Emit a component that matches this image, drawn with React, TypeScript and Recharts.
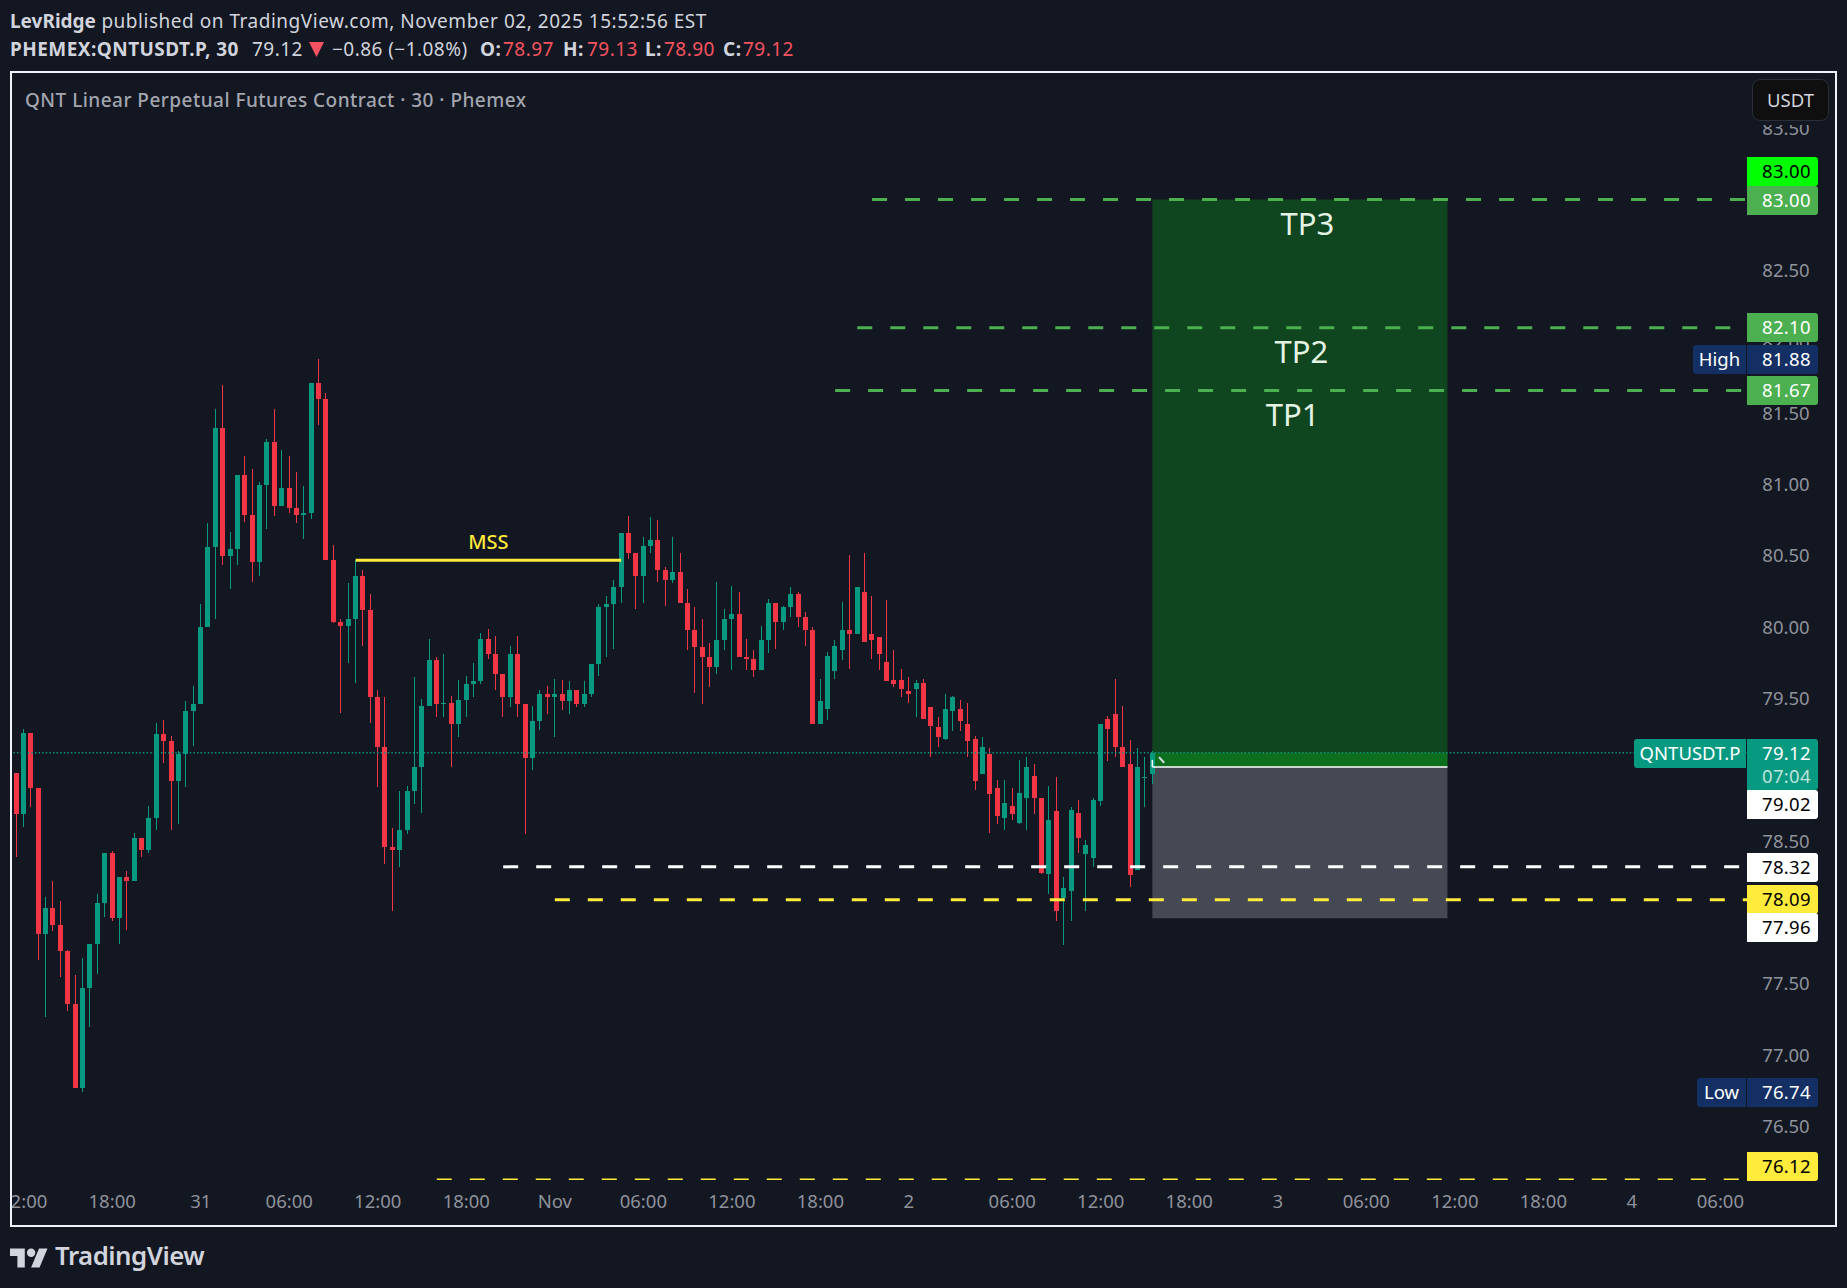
import { ComposedChart, Bar, XAxis, YAxis, ReferenceLine, ReferenceArea, ReferenceDot } from "recharts";

// [open, high, low, close], 30 minute bars from the left edge
const candles = [
  [78.98, 78.98, 78.39, 78.69], [78.69, 79.29, 78.60, 79.26], [79.26, 79.26, 78.74, 78.87], [78.87, 78.87, 77.67, 77.85],
  [77.85, 78.11, 77.27, 78.03], [78.03, 78.22, 77.87, 77.91], [77.91, 78.08, 77.55, 77.73], [77.73, 77.74, 77.31, 77.36],
  [77.36, 77.56, 76.77, 76.77], [76.77, 77.68, 76.74, 77.47], [77.47, 77.78, 77.20, 77.78], [77.78, 78.13, 77.57, 78.07],
  [78.07, 78.42, 77.97, 78.42], [78.42, 78.43, 77.94, 77.96], [77.96, 78.25, 77.78, 78.25], [78.25, 78.29, 77.88, 78.22],
  [78.22, 78.56, 78.22, 78.52], [78.52, 78.52, 78.39, 78.44], [78.44, 78.75, 78.42, 78.66], [78.66, 79.33, 78.58, 79.25],
  [79.25, 79.35, 79.05, 79.20], [79.20, 79.24, 78.58, 78.92], [78.92, 79.13, 78.62, 79.11], [79.11, 79.48, 78.88, 79.41],
  [79.41, 79.59, 79.17, 79.46], [79.46, 80.16, 79.46, 80.00], [80.00, 80.73, 80.00, 80.56], [80.56, 81.53, 80.06, 81.40],
  [81.40, 81.70, 80.44, 80.50], [80.50, 80.67, 80.27, 80.55], [80.55, 81.07, 80.44, 81.07], [81.07, 81.20, 80.74, 80.79],
  [80.79, 81.11, 80.32, 80.46], [80.46, 81.02, 80.36, 81.00], [81.00, 81.32, 80.69, 81.30], [81.30, 81.53, 80.78, 80.85],
  [80.85, 81.24, 80.85, 80.98], [80.98, 81.20, 80.80, 80.84], [80.84, 81.09, 80.73, 80.79], [80.79, 80.99, 80.62, 80.80],
  [80.80, 81.71, 80.76, 81.71], [81.71, 81.88, 81.42, 81.60], [81.60, 81.64, 80.47, 80.47], [80.47, 80.58, 80.03, 80.04],
  [80.04, 80.06, 79.40, 80.01], [80.01, 80.31, 79.75, 80.06], [80.06, 80.47, 79.61, 80.36], [80.36, 80.40, 79.87, 80.12],
  [80.12, 80.23, 79.33, 79.51], [79.51, 79.56, 78.88, 79.16], [79.16, 79.51, 78.34, 78.46], [78.46, 78.59, 78.01, 78.44],
  [78.44, 78.85, 78.32, 78.58], [78.58, 78.89, 78.55, 78.85], [78.85, 79.65, 78.76, 79.02], [79.02, 79.50, 78.70, 79.45],
  [79.45, 79.92, 79.45, 79.77], [79.77, 79.79, 79.37, 79.46], [79.46, 79.81, 79.37, 79.47], [79.47, 79.52, 79.02, 79.32],
  [79.32, 79.63, 79.23, 79.49], [79.49, 79.66, 79.37, 79.60], [79.60, 79.75, 79.51, 79.62], [79.62, 79.96, 79.60, 79.92],
  [79.92, 79.99, 79.78, 79.81], [79.81, 79.94, 79.56, 79.67], [79.67, 79.67, 79.37, 79.51], [79.51, 79.87, 79.44, 79.81],
  [79.81, 79.94, 79.37, 79.46], [79.46, 79.46, 78.55, 79.08], [79.08, 79.45, 79.00, 79.34], [79.34, 79.56, 79.28, 79.53],
  [79.53, 79.59, 79.39, 79.51], [79.51, 79.64, 79.23, 79.53], [79.53, 79.63, 79.42, 79.48], [79.48, 79.62, 79.39, 79.56],
  [79.56, 79.56, 79.44, 79.46], [79.46, 79.62, 79.44, 79.53], [79.53, 79.74, 79.51, 79.74], [79.74, 80.16, 79.66, 80.14],
  [80.14, 80.22, 79.79, 80.16], [80.16, 80.33, 79.85, 80.28], [80.28, 80.66, 80.17, 80.66], [80.66, 80.78, 80.48, 80.52],
  [80.52, 80.52, 80.13, 80.36], [80.36, 80.63, 80.17, 80.57], [80.57, 80.77, 80.52, 80.61], [80.61, 80.75, 80.32, 80.40],
  [80.40, 80.42, 80.15, 80.33], [80.33, 80.63, 80.31, 80.39], [80.39, 80.52, 80.17, 80.17], [80.17, 80.27, 79.84, 79.98],
  [79.98, 80.14, 79.54, 79.86], [79.86, 80.06, 79.46, 79.79], [79.79, 79.89, 79.58, 79.72], [79.72, 80.32, 79.67, 79.91],
  [79.91, 80.13, 79.84, 80.06], [80.06, 80.29, 79.70, 80.09], [80.09, 80.25, 79.79, 79.79], [79.79, 79.92, 79.70, 79.78],
  [79.78, 79.84, 79.65, 79.70], [79.70, 80.01, 79.70, 79.91], [79.91, 80.20, 79.82, 80.17], [80.17, 80.17, 79.85, 80.04],
  [80.04, 80.15, 79.98, 80.14], [80.14, 80.28, 80.07, 80.23], [80.23, 80.25, 80.00, 80.07], [80.07, 80.11, 79.87, 79.98],
  [79.98, 80.00, 79.32, 79.32], [79.32, 79.64, 79.32, 79.48], [79.43, 79.83, 79.35, 79.80], [79.69, 79.91, 79.64, 79.87],
  [79.84, 80.18, 79.77, 79.98], [79.98, 80.51, 79.71, 79.95], [79.95, 80.28, 79.95, 80.28], [80.25, 80.52, 79.90, 79.90],
  [79.95, 80.22, 79.78, 79.91], [79.93, 79.93, 79.70, 79.81], [79.76, 80.19, 79.62, 79.62], [79.63, 79.84, 79.58, 79.60],
  [79.63, 79.71, 79.51, 79.57], [79.55, 79.65, 79.47, 79.53], [79.57, 79.63, 79.37, 79.61], [79.61, 79.64, 79.36, 79.36],
  [79.44, 79.44, 79.09, 79.31], [79.30, 79.37, 79.16, 79.23], [79.22, 79.53, 79.21, 79.43], [79.41, 79.52, 79.27, 79.51],
  [79.43, 79.49, 79.27, 79.34], [79.32, 79.47, 79.09, 79.20], [79.22, 79.24, 78.86, 78.92], [78.97, 79.23, 78.97, 79.16],
  [79.11, 79.15, 78.56, 78.83], [78.87, 78.93, 78.62, 78.68], [78.66, 78.93, 78.58, 78.77], [78.75, 78.87, 78.65, 78.69],
  [78.63, 79.07, 78.62, 78.84], [78.80, 79.09, 78.58, 79.02], [78.96, 79.04, 78.69, 78.80], [78.80, 78.80, 78.27, 78.28],
  [78.27, 78.89, 78.13, 78.65], [78.71, 78.95, 77.94, 78.01], [78.10, 78.25, 77.77, 78.17], [78.15, 78.74, 77.94, 78.72],
  [78.70, 78.79, 78.42, 78.52], [78.41, 78.51, 78.01, 78.47], [78.38, 78.80, 78.32, 78.79], [78.78, 79.32, 78.75, 79.32],
  [79.36, 79.38, 79.06, 79.29], [79.39, 79.64, 79.09, 79.16], [79.16, 79.45, 79.02, 79.02], [79.04, 79.21, 78.18, 78.26],
  [78.30, 79.15, 78.30, 79.02], [78.95, 79.09, 78.74, 78.95], [78.97, 79.13, 78.90, 79.12],
];

const priceTicks = [83.5, 83, 82.5, 82, 81.5, 81, 80.5, 80, 79.5, 79, 78.5, 78, 77.5, 77, 76.5];

// bar number -> time label, Nov 2 runs two bars long because of the clock change
const timeTickBars = [2, 14, 26, 38, 50, 62, 74, 86, 98, 110, 122, 136, 148, 160, 172, 184, 196, 208, 220, 232];
const timeTickLabels = ["12:00", "18:00", "31", "06:00", "12:00", "18:00", "Nov", "06:00", "12:00", "18:00", "2", "06:00", "12:00", "18:00", "3", "06:00", "12:00", "18:00", "4", "06:00"];

const lastPrice = 79.12;
const entryPrice = 79.02;
const targetPrice = 83.0;
const stopPrice = 77.96;
const whiteLevel = 78.32;
const yellowLevel = 78.09;
const lowerYellowLevel = 76.13;
const mssLevel = 80.47;
const tpLevels = [83.0, 82.1, 81.66];
const tpStartBars = [117, 115, 112];
const tpNames = ["TP3", "TP2", "TP1"];

const BAR_COUNT = 236;
const data = candles.map((c, i) => ({ bar: i + 1, open: c[0], high: c[1], low: c[2], close: c[3], range: [c[2], c[1]] }));

const UP = "#089981";
const DOWN = "#f23645";
const BG = "#131722";
const RED_TEXT = "#f7525f";
const FONT = '"Noto Sans", sans-serif';

function Candle(props: any) {
  const { x, y, width, height, payload } = props;
  const up = payload.close >= payload.open;
  const color = up ? UP : DOWN;
  const pxPerPrice = height / (payload.high - payload.low);
  const bodyTop = y + (payload.high - Math.max(payload.open, payload.close)) * pxPerPrice;
  const bodyH = Math.max(Math.abs(payload.open - payload.close) * pxPerPrice, 1);
  const left = Math.round(x + width / 2 - 2.5);
  return (
    <g shapeRendering="crispEdges">
      <rect x={left + 2} y={y} width={1} height={height} fill={color} />
      <rect x={left} y={bodyTop} width={5} height={bodyH} fill={color} />
    </g>
  );
}

function PriceTick(props: any) {
  const { y, payload } = props;
  return (
    <text x={1786} y={y + 6.5} textAnchor="middle" fontSize={18.5} fontFamily={FONT} fill="#8f929b">
      {payload.value.toFixed(2)}
    </text>
  );
}

function TimeTick(props: any) {
  const { x, y, payload } = props;
  const i = timeTickBars.indexOf(payload.value);
  return (
    <text x={x} y={y} textAnchor="middle" fontSize={18.5} fontFamily={FONT} fill="#8f929b">
      {timeTickLabels[i]}
    </text>
  );
}

function PriceTag({ top, height = 29, bg, color, text, sub }: any) {
  return (
    <div
      style={{
        position: "absolute", left: 1747, top, width: 71, height, boxSizing: "border-box", paddingLeft: 8, background: bg, color,
        borderRadius: "0 3px 3px 0", fontSize: 18.5, lineHeight: "28px", textAlign: "center", fontFamily: FONT, letterSpacing: 0.3,
      }}
    >
      {text}
      {sub && <div style={{ color: "#bfe3dc", marginTop: -5 }}>{sub}</div>}
    </div>
  );
}

function SideTag({ top, left, bg, text }: any) {
  return (
    <div
      style={{
        position: "absolute", left, top, width: 1746 - left, height: 29, background: bg, color: "#fff",
        borderRadius: "3px 0 0 3px", fontSize: 18.5, lineHeight: "27px", textAlign: "center", fontFamily: FONT,
      }}
    >
      {text}
    </div>
  );
}

function Head({ left, bold, color, children }: any) {
  return (
    <span style={{ position: "absolute", left, top: 0, fontWeight: bold ? 700 : 400, color }}>{children}</span>
  );
}

export default function App() {
  return (
    <div style={{ position: "absolute", left: 0, top: 0, width: 1847, height: 1288, background: BG, overflow: "hidden", fontFamily: FONT }}>
      <ComposedChart
        width={1847}
        height={1288}
        data={data}
        margin={{ top: 74, right: 0, bottom: 64, left: 12.6 }}
        style={{ position: "absolute", left: 0, top: 0 }}
      >
        <XAxis
          dataKey="bar"
          type="number"
          domain={[0.5, BAR_COUNT + 0.5]}
          allowDataOverflow
          ticks={timeTickBars}
          interval={0}
          tick={<TimeTick />}
          axisLine={false}
          tickLine={false}
          height={40}
          tickMargin={18}
        />
        <YAxis
          orientation="right"
          type="number"
          domain={[76.096, 83.88]}
          allowDataOverflow
          ticks={priceTicks}
          interval={0}
          tick={<PriceTick />}
          axisLine={false}
          tickLine={false}
          width={93.4}
        />

        <ReferenceArea x1={155} x2={195} y1={entryPrice} y2={targetPrice} fill="#0d6b1e" fillOpacity={0.55} stroke="none" />
        <ReferenceArea x1={155} x2={195} y1={stopPrice} y2={entryPrice} fill="#787b86" fillOpacity={0.5} stroke="none" />

        <ReferenceLine y={lastPrice} stroke={UP} strokeWidth={1.4} strokeDasharray="1.4 2.2" />

        <Bar dataKey="range" shape={<Candle />} barSize={5} isAnimationActive={false} />

        <ReferenceArea x1={155} x2={195} y1={entryPrice} y2={lastPrice} fill="#0c8a1c" fillOpacity={0.6} stroke="none" />
        <ReferenceLine segment={[{ x: 155, y: entryPrice }, { x: 195, y: entryPrice }]} stroke="#fff" strokeWidth={1.6} />
        <ReferenceLine segment={[{ x: 155, y: entryPrice }, { x: 155, y: 79.07 }]} stroke="#fff" strokeWidth={1.5} />
        <ReferenceLine segment={[{ x: 155.9, y: 79.09 }, { x: 156.6, y: 79.05 }]} stroke="#d8dde0" strokeWidth={2} />

        {tpLevels.map((level, i) => (
          <ReferenceLine
            key={tpNames[i]}
            segment={[{ x: tpStartBars[i], y: level }, { x: BAR_COUNT, y: level }]}
            stroke="#4caf50"
            strokeWidth={3}
            strokeDasharray="15 18"
          />
        ))}
        <ReferenceLine segment={[{ x: 67, y: whiteLevel }, { x: BAR_COUNT, y: whiteLevel }]} stroke="#ffffff" strokeWidth={3} strokeDasharray="15 18" />
        <ReferenceLine segment={[{ x: 74, y: yellowLevel }, { x: BAR_COUNT, y: yellowLevel }]} stroke="#ffeb3b" strokeWidth={3} strokeDasharray="15 18" />
        <ReferenceLine segment={[{ x: 58, y: lowerYellowLevel }, { x: BAR_COUNT, y: lowerYellowLevel }]} stroke="#ffeb3b" strokeWidth={1.5} strokeDasharray="15 18" />
        <ReferenceLine segment={[{ x: 47, y: mssLevel }, { x: 83, y: mssLevel }]} stroke="#ffeb3b" strokeWidth={3} />

        <ReferenceDot x={65} y={80.6} r={0} stroke="none" label={{ value: "MSS", position: "center", fill: "#ffeb3b", fontSize: 20, fontWeight: 500, fontFamily: FONT }} />
        <ReferenceDot x={176} y={82.83} r={0} stroke="none" label={{ value: "TP3", position: "center", fill: "#e4f3e4", fontSize: 31, fontFamily: FONT }} />
        <ReferenceDot x={175.2} y={81.93} r={0} stroke="none" label={{ value: "TP2", position: "center", fill: "#e4f3e4", fontSize: 31, fontFamily: FONT }} />
        <ReferenceDot x={174} y={81.49} r={0} stroke="none" label={{ value: "TP1", position: "center", fill: "#e4f3e4", fontSize: 31, fontFamily: FONT }} />
      </ComposedChart>

      {/* masks and frame */}
      <div style={{ position: "absolute", left: 0, top: 70, width: 10, height: 1160, background: BG }} />
      <div style={{ position: "absolute", left: 10, top: 71, width: 1827, height: 1156, boxSizing: "border-box", border: "2px solid #f0f3fa" }} />

      {/* header */}
      <div style={{ position: "absolute", left: 10, top: 8, fontSize: 19, lineHeight: "26px", color: "#d1d4dc", whiteSpace: "nowrap", letterSpacing: 0.52 }}>
        <b style={{ letterSpacing: 0 }}>LevRidge</b> published on TradingView.com, November 02, 2025 15:52:56 EST
      </div>
      <div style={{ position: "absolute", left: 0, top: 36, width: 900, height: 26, fontSize: 19, lineHeight: "26px", color: "#d1d4dc", whiteSpace: "nowrap", letterSpacing: 0.45 }}>
        <Head left={10} bold>PHEMEX:QNTUSDT.P, 30</Head>
        <Head left={252}>79.12</Head>
        <svg style={{ position: "absolute", left: 309, top: 6 }} width={15} height={15}>
          <polygon points="0,0 15,0 7.5,15" fill={RED_TEXT} />
        </svg>
        <Head left={332}>−0.86 (−1.08%)</Head>
        <Head left={480} bold>O:</Head>
        <Head left={503} color={RED_TEXT}>78.97</Head>
        <Head left={563} bold>H:</Head>
        <Head left={587} color={RED_TEXT}>79.13</Head>
        <Head left={645} bold>L:</Head>
        <Head left={664} color={RED_TEXT}>78.90</Head>
        <Head left={723} bold>C:</Head>
        <Head left={743} color={RED_TEXT}>79.12</Head>
      </div>
      <div style={{ position: "absolute", left: 25, top: 87, fontSize: 19, lineHeight: "26px", fontWeight: 500, color: "#a3a6af", whiteSpace: "nowrap", letterSpacing: 0.47 }}>
        QNT Linear Perpetual Futures Contract · 30 · Phemex
      </div>

      {/* currency button */}
      <div style={{ position: "absolute", left: 1752, top: 79, width: 77, height: 42, boxSizing: "border-box", background: "#0f0f0f", border: "1px solid #2a2e39", borderRadius: 8, boxShadow: `0 0 0 4px ${BG}`, color: "#d1d4dc", fontSize: 18.5, lineHeight: "40px", textAlign: "center" }}>
        USDT
      </div>

      {/* price scale tags */}
      <PriceTag top={157} bg="#00ff00" color="#000" text="83.00" />
      <PriceTag top={186} bg="#4caf50" color="#fff" text="83.00" />
      <PriceTag top={313} bg="#4caf50" color="#fff" text="82.10" />
      <SideTag top={345} left={1693} bg="#132f63" text="High" />
      <PriceTag top={345} bg="#132f63" color="#fff" text="81.88" />
      <PriceTag top={376} bg="#4caf50" color="#fff" text="81.67" />
      <SideTag top={739} left={1634} bg={UP} text="QNTUSDT.P" />
      <PriceTag top={739} height={51} bg={UP} color="#fff" text="79.12" sub="07:04" />
      <PriceTag top={790} bg="#fff" color="#000" text="79.02" />
      <PriceTag top={853} bg="#fff" color="#000" text="78.32" />
      <PriceTag top={885} bg="#ffeb3b" color="#000" text="78.09" />
      <PriceTag top={913} bg="#fff" color="#000" text="77.96" />
      <SideTag top={1078} left={1697} bg="#132f63" text="Low" />
      <PriceTag top={1078} bg="#132f63" color="#fff" text="76.74" />
      <PriceTag top={1152} bg="#ffeb3b" color="#000" text="76.12" />

      {/* logo */}
      <svg style={{ position: "absolute", left: 10, top: 1245 }} width={38} height={24} viewBox="0 0 36 22">
        <path d="M14 21H7V10H0V3h14v18zM28 21h-8l7.5-18h8L28 21z" fill="#d1d4dc" />
        <circle cx="20" cy="7" r="4" fill="#d1d4dc" />
      </svg>
      <div style={{ position: "absolute", left: 55, top: 1238, fontSize: 25.8, lineHeight: "34px", fontWeight: 600, color: "#d1d4dc", letterSpacing: -0.5 }}>TradingView</div>
    </div>
  );
}
